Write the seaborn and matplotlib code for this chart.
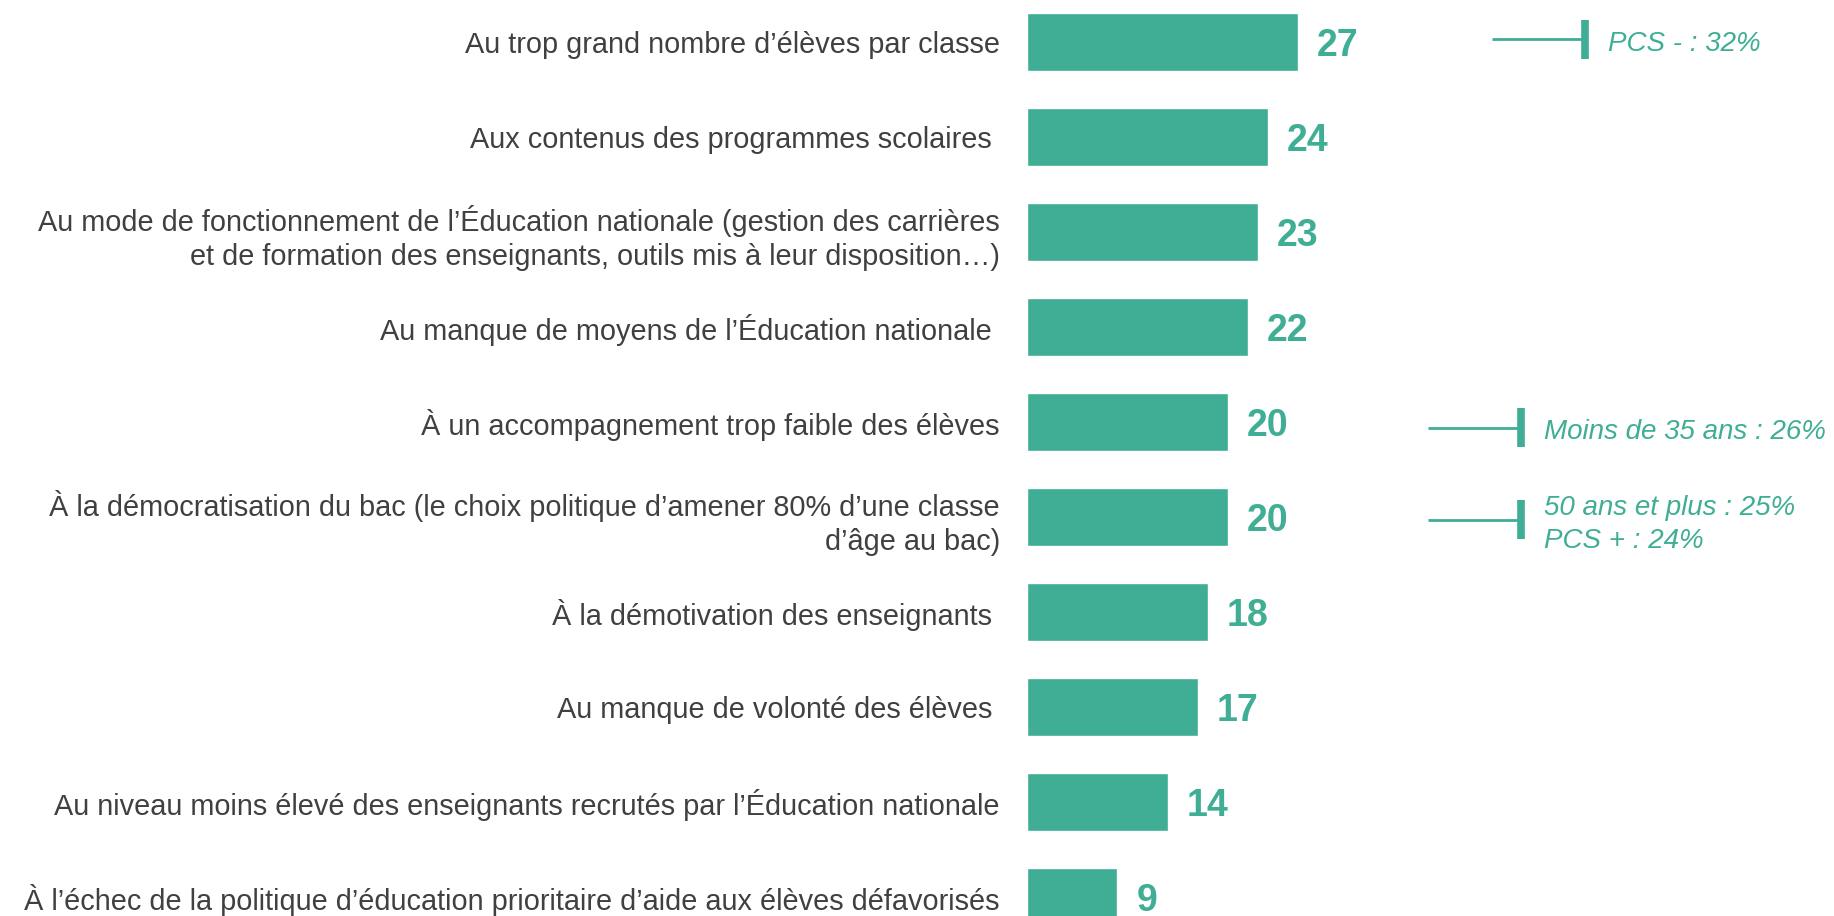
import numpy as np
import pandas as pd
import matplotlib
matplotlib.use("Agg")
import matplotlib.pyplot as plt
import seaborn as sns

# data
categories = [
    "Au trop grand nombre d’élèves par classe",
    "Aux contenus des programmes scolaires ",
    "Au mode de fonctionnement de l’Éducation nationale (gestion des carrières\net de formation des enseignants, outils mis à leur disposition…)",
    "Au manque de moyens de l’Éducation nationale ",
    "À un accompagnement trop faible des élèves",
    "À la démocratisation du bac (le choix politique d’amener 80% d’une classe\nd’âge au bac)",
    "À la démotivation des enseignants ",
    "Au manque de volonté des élèves ",
    "Au niveau moins élevé des enseignants recrutés par l’Éducation nationale",
    "À l’échec de la politique d’éducation prioritaire d’aide aux élèves défavorisés",
]
values = [27, 24, 23, 22, 20, 20, 18, 17, 14, 9]

# side notes: row index -> text
note_rows = [0, 4, 5]
note_texts = ["PCS - : 32%", "Moins de 35 ans : 26%", "50 ans et plus : 25%\nPCS + : 24%"]

teal = "#3FAE95"
grey = "#404040"

df = pd.DataFrame({"cat": categories, "val": values})

sns.set_style("white")
plt.rcParams["font.family"] = ["Liberation Sans", "DejaVu Sans"]

W, H = 1834, 916
fig = plt.figure(figsize=(W / 100, H / 100), dpi=100)
x0 = 1027
ax = fig.add_axes([x0 / W, 0, (W - x0) / W, 1])

sns.barplot(data=df, x="val", y="cat", color=teal, saturation=1, width=0.61, ax=ax)

px_per_unit = 10.04
ax.set_xlim(0, (W - x0) / px_per_unit)
ax.set_ylim((H - 42) / 95, -42 / 95)
ax.set_xlabel("")
ax.set_ylabel("")
ax.set_xticks([])
sns.despine(ax=ax, left=True, bottom=True)
ax.tick_params(axis="y", length=0, pad=19.5, labelsize=20.8, labelcolor=grey)
for lab in ax.get_yticklabels():
    lab.set_linespacing(1.28)

for i, v in enumerate(values):
    ax.text(v + 1.9, i + 0.04, str(v), color=teal, fontsize=27, fontweight="bold",
            va="center", ha="left")

# note layout (pixels): line start, tick x, vertical offset from row centre
note_x_start = [1492, 1428, 1428]
note_x_tick = [1585, 1521, 1521]
note_dy = [-0.03, 0.06, 0.03]

for r, t, xs, xt, dy in zip(note_rows, note_texts, note_x_start, note_x_tick, note_dy):
    y = r + dy
    ax.plot([(xs - x0) / px_per_unit, (xt - x0) / px_per_unit],
            [y, y], color=teal, lw=2, solid_capstyle="butt")
    xv = (xt - x0) / px_per_unit
    ax.plot([xv, xv], [y - 0.205, y + 0.205], color=teal, lw=5.5, solid_capstyle="butt")
    ax.text(xv + 2.3, y + 0.05, t, color=teal, fontsize=20, fontstyle="italic",
            va="center", ha="left", linespacing=1.33)

fig.savefig("out.png", dpi=100)
